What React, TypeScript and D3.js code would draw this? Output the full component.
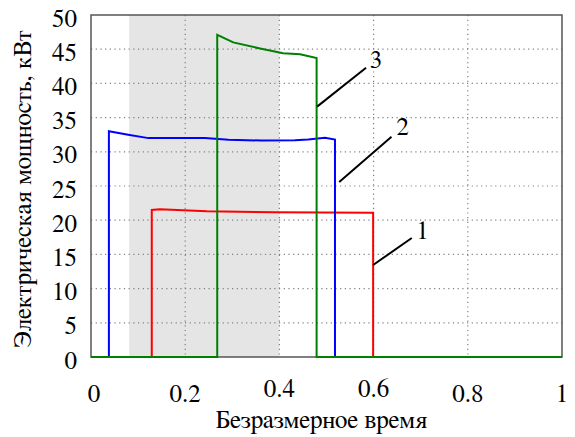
import React from "react";
import * as d3 from "d3";

const xTicks = [0, 0.2, 0.4, 0.6, 0.8, 1];
const xTickLabels = ["0", "0.2", "0.4", "0.6", "0.8", "1"];
const yTicks = [0, 5, 10, 15, 20, 25, 30, 35, 40, 45, 50];
const shadeBand = [0.081, 0.4];

// series 1 (red)
const s1x = [0, 0.129, 0.129, 0.146, 0.246, 0.387, 0.599, 0.599, 1];
const s1y = [0, 0, 21.5, 21.6, 21.3, 21.15, 21.1, 0, 0];
// series 2 (blue)
const s2x = [0, 0.038, 0.038, 0.079, 0.122, 0.185, 0.242, 0.292, 0.362, 0.433, 0.461, 0.497, 0.518, 0.518, 1];
const s2y = [0, 0, 33.0, 32.5, 32.0, 32.0, 32.0, 31.75, 31.65, 31.7, 31.8, 32.05, 31.8, 0, 0];
// series 3 (green)
const s3x = [0, 0.268, 0.268, 0.302, 0.359, 0.408, 0.444, 0.479, 0.479, 1];
const s3y = [0, 0, 47.1, 46.0, 45.1, 44.4, 44.25, 43.7, 0, 0];

const labels = ["1", "2", "3"];
const leaderFromX = [0.599, 0.527, 0.48];
const leaderFromY = [13.45, 25.6, 36.6];
const leaderToX = [0.681, 0.638, 0.584];
const leaderToY = [17.4, 32.2, 42.3];
const labelX = [0.704, 0.662, 0.605];
const labelY = [18.3, 33.5, 43.4];

const xTitle = "Безразмерное время";
const yTitle = "Электрическая мощность, кВт";

export default function App() {
  const W = 575, H = 437;
  const m = { left: 91, right: 562, top: 15, bottom: 357 };
  const x = d3.scaleLinear().domain([0, 1]).range([m.left, m.right]);
  const y = d3.scaleLinear().domain([0, 50]).range([m.bottom, m.top]);
  const line = d3.line<[number, number]>().x(d => x(d[0])).y(d => y(d[1]));
  const mk = (xs: number[], ys: number[]) => xs.map((v, i) => [v, ys[i]] as [number, number]);
  const ts: React.CSSProperties = { fontFamily: "FreeSerif, 'Liberation Serif', serif", fontSize: 25 };
  const series = [
    { d: mk(s1x, s1y), c: "#ff0000" },
    { d: mk(s2x, s2y), c: "#0000ff" },
    { d: mk(s3x, s3y), c: "#008000" },
  ];
  const xLabelDy = [0, 0, -5, -5, 0, 0];
  return (
    <svg width={W} height={H} style={{ position: "absolute", left: 0, top: 0, background: "#fff" }}>
      <rect x={x(shadeBand[0])} y={m.top} width={x(shadeBand[1]) - x(shadeBand[0])} height={m.bottom - m.top} fill="#e5e5e5" />
      {yTicks.slice(1, -1).map(t => (
        <line key={"gy" + t} x1={m.left} x2={m.right} y1={y(t)} y2={y(t)} stroke="#808080" strokeWidth={1.2} strokeDasharray="1.2,3.5" />
      ))}
      {xTicks.slice(1, -1).map(t => (
        <line key={"gx" + t} x1={x(t)} x2={x(t)} y1={m.top} y2={m.bottom} stroke="#808080" strokeWidth={1.2} strokeDasharray="1.2,3.5" />
      ))}
      <rect x={m.left} y={m.top} width={m.right - m.left} height={m.bottom - m.top} fill="none" stroke="#555" strokeWidth={1.5} />
      {series.map((s, i) => (
        <path key={i} d={line(s.d) || ""} fill="none" stroke={s.c} strokeWidth={2} />
      ))}
      {labels.map((l, i) => (
        <g key={"l" + i}>
          <line x1={x(leaderFromX[i])} y1={y(leaderFromY[i])} x2={x(leaderToX[i])} y2={y(leaderToY[i])} stroke="#000" strokeWidth={2} />
          <text x={x(labelX[i])} y={y(labelY[i])} style={ts} textAnchor="middle" dominantBaseline="central">{l}</text>
        </g>
      ))}
      {yTicks.map(t => (
        <text key={"yt" + t} x={m.left - 14} y={y(t) + 4} style={ts} textAnchor="end" dominantBaseline="central">{t}</text>
      ))}
      {xTicks.map((t, i) => (
        <text key={"xt" + t} x={x(t) + (i === 0 ? 3 : 0)} y={m.bottom + 37 + xLabelDy[i]} style={ts} textAnchor="middle" dominantBaseline="central">{xTickLabels[i]}</text>
      ))}
      <text x={321.5} y={420} style={ts} textAnchor="middle" dominantBaseline="central">{xTitle}</text>
      <text transform={`translate(23,189) rotate(-90)`} style={ts} textAnchor="middle" dominantBaseline="central">{yTitle}</text>
    </svg>
  );
}
